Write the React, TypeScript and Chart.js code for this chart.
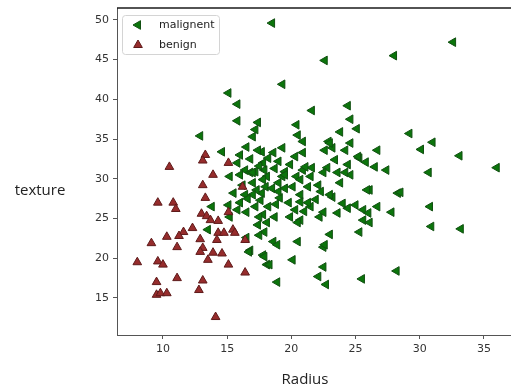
import React, { useEffect, useRef } from "react";
import { Chart, registerables } from "chart.js";

Chart.register(...registerables);

const malignantRadius = [
  18.5, 32.6, 28.0, 22.6, 19.3, 15.1, 15.8, 15.8, 12.9, 14.6,
  21.6, 24.4, 24.6, 25.1, 23.8, 20.4, 20.5, 20.9, 19.3, 18.6,
  17.7, 17.4, 17.2, 17.0, 16.5, 17.4, 16.0, 15.8, 16.4, 17.2,
  22.9, 23.2, 22.6, 24.6, 24.2, 26.7, 25.3, 25.8, 26.5, 23.4,
  24.4, 24.6, 23.6, 22.8, 20.9, 20.3, 19.5, 19.9, 20.9, 21.6,
  21.5, 20.4, 19.3, 17.9, 17.8, 27.4, 29.2, 31.0, 30.1, 33.1,
  36.0, 30.7, 28.3, 27.8, 30.8, 30.9, 33.2, 28.2, 18.1, 19.5,
  22.5, 24.2, 20.1, 21.3, 22.1, 23.8, 26.1, 17.7, 19.1, 23.2,
  20.7, 21.5, 20.3, 19.9, 20.7, 22.2, 22.5, 23.6, 24.4, 25.0,
  25.6, 26.0, 26.7, 25.6, 25.3, 26.1, 18.7, 18.1, 17.8, 18.6,
  18.9, 20.5, 22.5, 23.0, 22.6, 17.8, 20.1, 18.1, 22.5, 22.1,
  22.7, 18.9, 25.5, 20.7, 17.8, 19.0, 20.7, 23.0, 25.9, 28.5,
  17.3, 15.2, 16.0, 16.8, 15.5, 16.4, 17.0, 16.0, 15.1, 15.8,
  16.5, 17.5, 15.2, 13.8, 13.5, 17.4, 17.9, 17.5, 16.5, 16.8,
  17.9, 16.7, 18.3, 16.2, 17.0, 18.0, 18.5, 16.6, 17.6, 18.2,
  18.8, 19.5, 19.0, 17.2, 20.5, 21.3, 25.2, 23.0, 21.1, 17.0,
  16.8, 18.2, 19.0, 21.9, 19.8, 22.3, 17.5, 18.7, 21.0, 24.0,
];
const malignantTexture = [
  49.6, 47.2, 45.5, 44.9, 41.9, 40.8, 39.4, 37.3, 35.4, 33.4,
  38.6, 39.2, 37.5, 36.3, 35.9, 36.8, 35.5, 34.7, 33.9, 33.3,
  33.4, 37.1, 36.2, 35.3, 34.0, 33.6, 33.0, 32.0, 31.1, 30.9,
  34.7, 33.9, 33.6, 34.5, 33.6, 33.6, 32.6, 32.1, 31.5, 32.4,
  31.8, 30.5, 30.8, 31.4, 33.3, 32.8, 30.9, 31.8, 31.1, 31.4,
  30.3, 30.3, 30.3, 31.1, 32.0, 31.1, 35.7, 34.6, 33.7, 32.9,
  31.4, 30.8, 28.2, 25.8, 26.5, 24.0, 23.7, 18.4, 30.3, 30.5,
  30.8, 30.8, 29.0, 29.0, 29.2, 29.5, 28.6, 28.2, 27.6, 27.7,
  27.1, 26.5, 26.1, 25.2, 24.8, 25.2, 25.8, 25.7, 26.3, 26.7,
  26.1, 25.7, 26.5, 24.8, 23.3, 24.5, 25.2, 24.5, 25.5, 22.1,
  21.7, 22.1, 21.4, 23.0, 21.7, 20.4, 19.8, 19.2, 18.9, 17.7,
  16.7, 17.0, 17.4, 29.9, 29.9, 28.4, 28.0, 28.0, 28.6, 28.3,
  28.6, 30.3, 30.5, 30.8, 28.2, 28.0, 28.0, 27.0, 26.7, 26.1,
  25.8, 25.2, 25.2, 26.5, 23.6, 24.2, 23.3, 22.9, 22.6, 21.0,
  20.2, 20.8, 19.2, 29.2, 29.5, 29.0, 28.8, 27.5, 27.3, 26.5,
  26.8, 28.8, 29.5, 26.5, 24.5, 27.0, 32.8, 34.5, 31.5, 30.8,
  32.5, 32.6, 32.2, 27.4, 27.0, 28.4, 31.6, 31.3, 25.9, 26.9,
];

const benignRadius = [
  10.5, 13.3, 13.1, 15.1, 13.9, 13.1, 13.3, 9.6, 10.8, 11.0,
  13.0, 13.4, 13.7, 14.3, 12.3, 11.6, 11.25, 10.3, 9.1, 11.1,
  12.9, 13.1, 12.9, 13.9, 14.6, 14.3, 14.75, 14.2, 15.45, 15.6,
  16.4, 13.5, 15.1, 8.0, 9.6, 10.0, 9.5, 11.1, 13.1, 16.4,
  9.5, 9.8, 10.3, 12.8, 14.1, 16.2, 15.1,
];
const benignTexture = [
  31.5, 33.0, 32.3, 32.0, 30.5, 29.2, 27.6, 27.0, 27.0, 26.2,
  25.6, 25.3, 24.8, 24.7, 23.8, 23.3, 22.8, 22.7, 21.9, 21.4,
  22.4, 21.3, 20.8, 20.7, 20.6, 23.2, 23.2, 22.3, 23.6, 23.2,
  22.3, 19.8, 19.2, 19.5, 19.6, 19.2, 17.0, 17.5, 17.2, 18.2,
  15.4, 15.6, 15.6, 16.0, 12.6, 29.0, 25.8,
];

const xTicks = [10, 15, 20, 25, 30, 35];
const yTicks = [15, 20, 25, 30, 35, 40, 45, 50];
const seriesLabels = ["malignent", "benign"];
const axisTitles = { x: "Radius", y: "texture" };

const GREEN_FILL = "#0b750b";
const GREEN_EDGE = "#114f11";
const RED_FILL = "#962c2c";
const RED_EDGE = "#5e1a1a";

function drawTri(ctx: CanvasRenderingContext2D, x: number, y: number, r: number, rotDeg: number, fill: string, stroke: string) {
  let rad = (rotDeg * Math.PI) / 180;
  ctx.beginPath();
  ctx.moveTo(x + Math.sin(rad) * r, y - Math.cos(rad) * r);
  rad += (2 * Math.PI) / 3;
  ctx.lineTo(x + Math.sin(rad) * r, y - Math.cos(rad) * r);
  rad += (2 * Math.PI) / 3;
  ctx.lineTo(x + Math.sin(rad) * r, y - Math.cos(rad) * r);
  ctx.closePath();
  ctx.fillStyle = fill;
  ctx.fill();
  ctx.strokeStyle = stroke;
  ctx.lineWidth = 1;
  ctx.stroke();
}

const zeroPad = (scale: any) => {
  scale.paddingLeft = 0;
  scale.paddingRight = 0;
  scale.paddingTop = 0;
  scale.paddingBottom = 0;
};

const overlayPlugin = {
  id: "overlay",
  afterDraw(chart: any) {
    const { ctx, chartArea } = chart;
    ctx.save();
    ctx.strokeStyle = "#1a1a1a";
    ctx.lineWidth = 1.5;
    ctx.beginPath();
    ctx.moveTo(chartArea.left, chartArea.top);
    ctx.lineTo(chartArea.right, chartArea.top);
    ctx.stroke();

    const bx = 122.5, by = 15.5, bw = 97, bh = 39, rr = 3;
    ctx.beginPath();
    ctx.moveTo(bx + rr, by);
    ctx.lineTo(bx + bw - rr, by);
    ctx.quadraticCurveTo(bx + bw, by, bx + bw, by + rr);
    ctx.lineTo(bx + bw, by + bh - rr);
    ctx.quadraticCurveTo(bx + bw, by + bh, bx + bw - rr, by + bh);
    ctx.lineTo(bx + rr, by + bh);
    ctx.quadraticCurveTo(bx, by + bh, bx, by + bh - rr);
    ctx.lineTo(bx, by + rr);
    ctx.quadraticCurveTo(bx, by, bx + rr, by);
    ctx.closePath();
    ctx.fillStyle = "rgba(255,255,255,0.85)";
    ctx.fill();
    ctx.strokeStyle = "#d4d4d4";
    ctx.lineWidth = 1;
    ctx.stroke();

    drawTri(ctx, 138, 25, 5, -90, GREEN_FILL, GREEN_EDGE);
    drawTri(ctx, 138, 45, 5, 0, RED_FILL, RED_EDGE);
    ctx.fillStyle = "#222";
    ctx.font = '11px "DejaVu Sans"';
    ctx.textAlign = "left";
    ctx.textBaseline = "middle";
    ctx.fillText(seriesLabels[0], 159, 25);
    ctx.fillText(seriesLabels[1], 159, 45);

    ctx.font = '15px "Open Sans"';
    ctx.fillStyle = "#222";
    ctx.textAlign = "center";
    ctx.fillText(axisTitles.y, 40, 191);
    ctx.fillText(axisTitles.x, 305, 380);
    ctx.restore();
  },
};

export default function App() {
  const canvasRef = useRef<HTMLCanvasElement | null>(null);

  useEffect(() => {
    const canvas = canvasRef.current;
    if (!canvas) return;
    const mal = malignantRadius.map((x, i) => ({ x, y: malignantTexture[i] }));
    const ben = benignRadius.map((x, i) => ({ x, y: benignTexture[i] }));
    const chart = new Chart(canvas, {
      type: "scatter",
      data: {
        datasets: [
          {
            label: seriesLabels[0],
            data: mal,
            pointStyle: "triangle",
            rotation: -90,
            radius: 5,
            backgroundColor: GREEN_FILL,
            borderColor: GREEN_EDGE,
            borderWidth: 1,
            order: 1,
          } as any,
          {
            label: seriesLabels[1],
            data: ben,
            pointStyle: "triangle",
            rotation: 0,
            radius: 5,
            backgroundColor: RED_FILL,
            borderColor: RED_EDGE,
            borderWidth: 1,
            order: 0,
          } as any,
        ],
      },
      options: {
        responsive: false,
        animation: false,
        devicePixelRatio: 1,
        layout: { autoPadding: false, padding: { top: 8, left: 0, right: 0, bottom: 0 } },
        plugins: {
          legend: { display: false },
          tooltip: { enabled: false },
          title: { display: false },
        },
        scales: {
          x: {
            type: "linear",
            min: 6.42,
            max: 38.59,
            afterBuildTicks: (scale: any) => {
              scale.ticks = xTicks.map((v) => ({ value: v }));
            },
            afterFit: (scale: any) => {
              scale.height = 55;
              zeroPad(scale);
            },
            grid: {
              display: true,
              drawOnChartArea: false,
              drawTicks: true,
              tickLength: 4,
              color: "#555",
            },
            border: { display: true, color: "#555", width: 1 },
            ticks: {
              color: "#333",
              font: { family: "DejaVu Sans", size: 11 },
              padding: 4,
              maxRotation: 0,
            },
          },
          y: {
            type: "linear",
            min: 10.34,
            max: 51.5,
            afterBuildTicks: (scale: any) => {
              scale.ticks = yTicks.map((v) => ({ value: v }));
            },
            afterFit: (scale: any) => {
              scale.width = 117;
              zeroPad(scale);
            },
            grid: {
              display: true,
              drawOnChartArea: false,
              drawTicks: true,
              tickLength: 4,
              color: "#555",
            },
            border: { display: true, color: "#555", width: 1 },
            ticks: {
              color: "#333",
              font: { family: "DejaVu Sans", size: 11 },
              padding: 4,
            },
          },
        },
      },
      plugins: [overlayPlugin],
    });
    return () => chart.destroy();
  }, []);

  return (
    <div style={{ position: "absolute", left: 0, top: 0, width: 511, height: 390, overflow: "hidden", background: "#fff" }}>
      <canvas ref={canvasRef} width={530} height={390} style={{ display: "block" }} />
    </div>
  );
}
